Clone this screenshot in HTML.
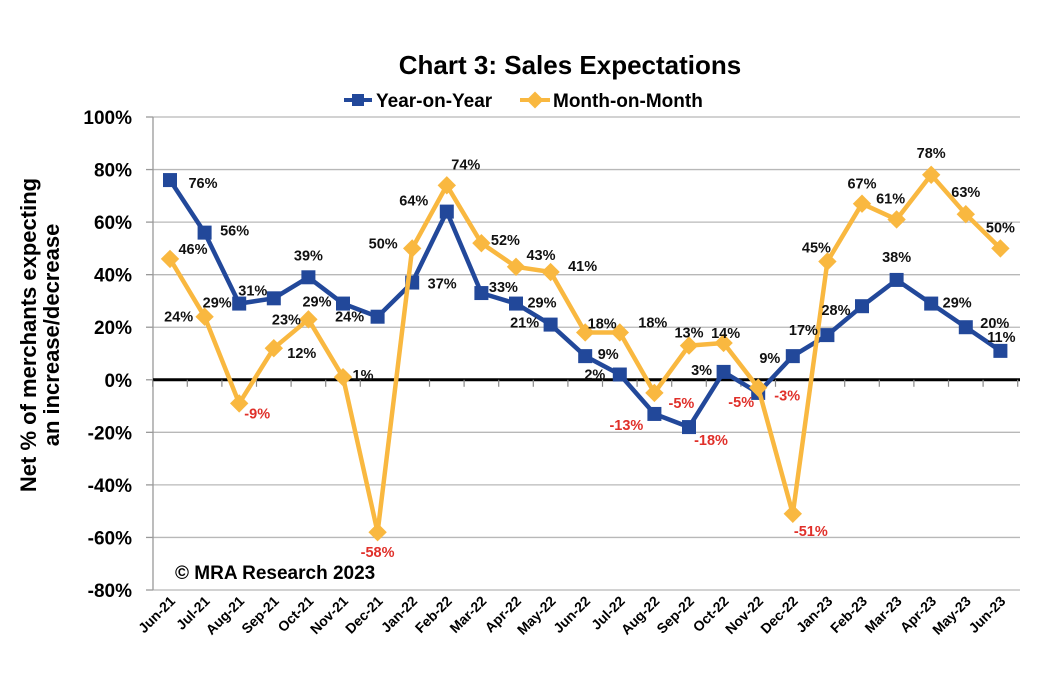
<!DOCTYPE html>
<html><head><meta charset="utf-8"><style>
html,body{margin:0;padding:0;background:#fff;}
svg{display:block;font-family:"Liberation Sans",Arial,sans-serif;font-weight:bold;}
</style></head><body>
<svg id="chart" width="1041" height="679" viewBox="0 0 1041 679" xmlns="http://www.w3.org/2000/svg">
<text x="570" y="74" text-anchor="middle" font-size="26">Chart 3: Sales Expectations</text>
<g>
<g>
<line x1="344" y1="100" x2="372" y2="100" stroke="#22489a" stroke-width="4"/>
<rect x="352" y="94" width="12" height="12" fill="#22489a"/>
<text x="376" y="107" font-size="19">Year-on-Year</text>
</g>
<g>
<line x1="520" y1="100" x2="550" y2="100" stroke="#f9b840" stroke-width="4"/>
<rect x="529" y="94" width="12" height="12" fill="#f9b840" transform="rotate(45 535 100)"/>
<text x="553" y="107" font-size="19">Month-on-Month</text>
</g>
</g>
<g transform="translate(0,335) rotate(-90)">
<text x="0" y="36" text-anchor="middle" font-size="22">Net % of merchants expecting</text>
<text x="0" y="59" text-anchor="middle" font-size="22">an increase/decrease</text>
</g>
<g id="grid"></g>
<g id="yticks"></g>
<g id="xticks"></g>
<g id="series"></g>
<g id="labels"></g>
<text x="175" y="579" font-size="19">© MRA Research 2023</text>
</svg>
<script>
const categories = ["Jun-21","Jul-21","Aug-21","Sep-21","Oct-21","Nov-21","Dec-21","Jan-22","Feb-22","Mar-22","Apr-22","May-22","Jun-22","Jul-22","Aug-22","Sep-22","Oct-22","Nov-22","Dec-22","Jan-23","Feb-23","Mar-23","Apr-23","May-23","Jun-23"];
const yoyValues = [76,56,29,31,39,29,24,37,64,33,29,21,9,2,-13,-18,3,-5,9,17,28,38,29,20,11];
const momValues = [46,24,-9,12,23,1,-58,50,74,52,43,41,18,18,-5,13,14,-3,-51,45,67,61,78,63,50];
const yTickValues = [-80,-60,-40,-20,0,20,40,60,80,100];

// label offsets (style, pixels relative to the point)
const yoyDX = [33,30,-22,-21,0,-26,-28,30,-33,22,26,-26,23,-25,-28,22,-22,-17,-23,-24,-26,0,26,29,1];
const yoyDY = [3,-2,-1,-8,-22,-2,0,1,-11,-6,-1,-2,-2,0,11,13,-2,9,2,-5,4,-23,-1,-4,-14];
const momDX = [23,-26,18,28,-22,20,0,-29,19,24,25,32,17,33,27,0,2,29,18,-11,0,-6,0,0,0];
const momDY = [-10,0,10,5,0,-2,20,-5,-21,-3,-12,-6,-9,-10,10,-13,-10,8,17,-14,-20,-21,-22,-22,-21];

const NS = "http://www.w3.org/2000/svg";
const X0 = 170, X1 = 1000.4, LEFT = 153, RIGHT = 1020;
const YMIN = -80, YMAX = 100, YTOP = 117, YBOT = 590;
function xPos(i){ return X0 + (X1 - X0) * i / (categories.length - 1); }
function yPos(v){ return YBOT - (v - YMIN) / (YMAX - YMIN) * (YBOT - YTOP); }
function mk(tag, attrs, parent){ const e = document.createElementNS(NS, tag); for (const k in attrs) e.setAttribute(k, attrs[k]); parent.appendChild(e); return e; }

const grid = document.getElementById('grid');
const yt = document.getElementById('yticks');
yTickValues.forEach(v => {
  const y = yPos(v);
  if (v !== 0) {
    const g = mk('line', {x1: LEFT, x2: RIGHT, y1: y, y2: y, stroke: '#b8b8b8', 'stroke-width': 1.3}, grid);
    
    
  }
  mk('line', {x1: LEFT - 7, x2: LEFT, y1: y, y2: y, stroke: '#999', 'stroke-width': 1.3}, yt);
  const t = mk('text', {x: 132, y: y + 7, 'text-anchor': 'end', 'font-size': 19}, yt);
  t.textContent = v + '%';
  
  
});
const ax = mk('line', {x1: LEFT, x2: LEFT, y1: YTOP, y2: YBOT, stroke: '#999', 'stroke-width': 1.3}, grid);


const zl = mk('line', {x1: LEFT, x2: RIGHT, y1: yPos(0), y2: yPos(0), stroke: '#000', 'stroke-width': 3}, grid);



const xt = document.getElementById('xticks');
const step = (X1 - X0) / (categories.length - 1);
for (let i = 0; i <= categories.length; i++) {
  const x = X0 - step / 2 + i * step;
  mk('line', {x1: x, x2: x, y1: yPos(0), y2: yPos(0) + 7, stroke: '#888', 'stroke-width': 1.2}, xt);
}
categories.forEach((c, i) => {
  const x = xPos(i) + 6, y = 602;
  const t = mk('text', {x: x, y: y, 'text-anchor': 'end', 'font-size': 14, transform: `rotate(-45 ${x} ${y})`}, xt);
  t.textContent = c;
  
  
});

const ser = document.getElementById('series');
const lab = document.getElementById('labels');
function drawSeries(vals, color, name, diamond, dxs, dys) {
  const pts = vals.map((v, i) => xPos(i).toFixed(1) + ',' + yPos(v).toFixed(1)).join(' ');
  const pl = mk('polyline', {points: pts, fill: 'none', stroke: color, 'stroke-width': 4.5, 'stroke-linejoin': 'round'}, ser);
  
  
  vals.forEach((v, i) => {
    const x = xPos(i), y = yPos(v);
    let m;
    if (diamond) {
      m = mk('rect', {x: x - 6.5, y: y - 6.5, width: 13, height: 13, fill: color, transform: `rotate(45 ${x} ${y})`}, ser);
    } else {
      m = mk('rect', {x: x - 7, y: y - 7, width: 14, height: 14, fill: color}, ser);
    }
    
    
    const t = mk('text', {x: x + dxs[i], y: y + dys[i] + 5, 'text-anchor': 'middle', 'font-size': 14.5, fill: v < 0 ? '#e0302a' : '#111'}, lab);
    t.textContent = v + '%';
    
    
  });
}
drawSeries(yoyValues, '#22489a', 'yoy', false, yoyDX, yoyDY);
drawSeries(momValues, '#f9b840', 'mom', true, momDX, momDY);
</script>
</body></html>
